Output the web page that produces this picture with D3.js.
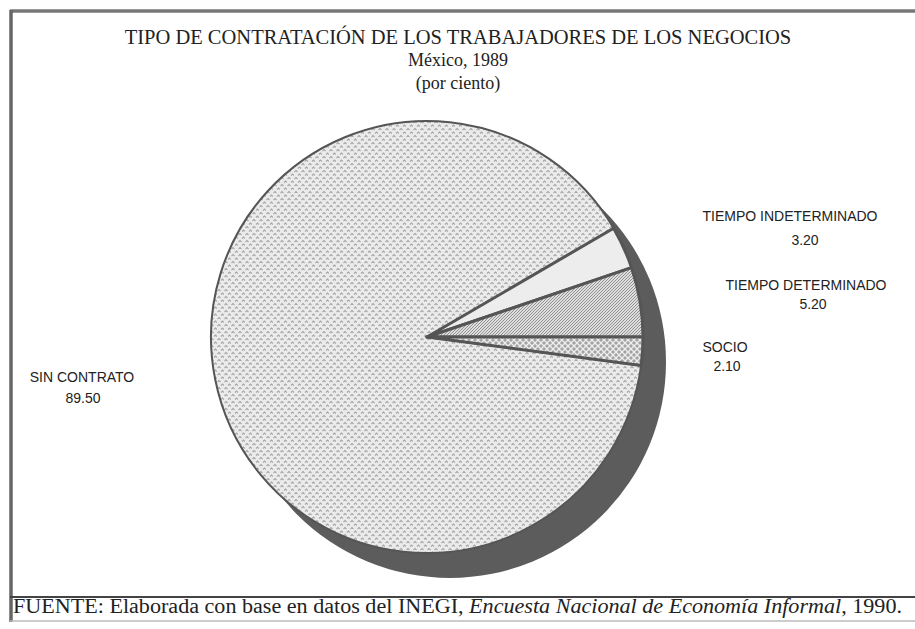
<!DOCTYPE html>
<html>
<head>
<meta charset="utf-8">
<script src="https://cdn.jsdelivr.net/npm/d3@7"></script>
<style>
body { margin: 0; background: #fff; }
svg { display: block; }
</style>
</head>
<body>
<div id="chart"></div>
<script>
// data
var categories = ["SIN CONTRATO", "TIEMPO INDETERMINADO", "TIEMPO DETERMINADO", "SOCIO"];
var values = [89.5, 3.2, 5.2, 2.1];
var valueLabels = ["89.50", "3.20", "5.20", "2.10"];
var titleLines = ["TIPO DE CONTRATACIÓN DE LOS TRABAJADORES DE LOS NEGOCIOS", "México, 1989", "(por ciento)"];

// layout
var width = 915, height = 629;
var cx = 427, cy = 337, r = 216;
var depthX = 23, depthY = 25; // shadow band offset
var fills = ["url(#dots)", "#ededed", "url(#hatch)", "url(#weave)"];
var labelPos = [[82, 382], [790, 221], [806, 290], [725, 352]]; // name line anchor
var valuePos = [[83, 403], [805, 245], [813, 309], [727, 371]];  // value line anchor

var svg = d3.select("#chart").append("svg")
	.attr("width", width)
	.attr("height", height);

svg.append("rect").attr("width", width).attr("height", height).attr("fill", "#fff");

var defs = svg.append("defs");

// chevron dots for the big slice
var dots = defs.append("pattern")
	.attr("id", "dots")
	.attr("patternUnits", "userSpaceOnUse")
	.attr("width", 7).attr("height", 7);
dots.append("rect").attr("width", 7).attr("height", 7).attr("fill", "#ebebeb");
dots.append("path").attr("d", "M0.5,3 L2,1.5 L3.5,3 M4,6.5 L5.5,5 L7,6.5")
	.attr("fill", "none").attr("stroke", "#a6a6a6").attr("stroke-width", 1.1);

// diagonal hatch
var hatch = defs.append("pattern")
	.attr("id", "hatch")
	.attr("patternUnits", "userSpaceOnUse")
	.attr("width", 3).attr("height", 3);
hatch.append("rect").attr("width", 3).attr("height", 3).attr("fill", "#dedede");
hatch.append("path").attr("d", "M-1,1 L1,-1 M0,3 L3,0 M2,4 L4,2")
	.attr("stroke", "#888").attr("stroke-width", 0.9);

// weave / cross hatch
var weave = defs.append("pattern")
	.attr("id", "weave")
	.attr("patternUnits", "userSpaceOnUse")
	.attr("width", 6).attr("height", 6);
weave.append("rect").attr("width", 6).attr("height", 6).attr("fill", "#a4a4a4");
weave.append("path").attr("d", "M0,0 L6,6 M6,0 L0,6")
	.attr("stroke", "#eee").attr("stroke-width", 1.3);

// frame lines
svg.append("line").attr("x1", 10).attr("y1", 11).attr("x2", width).attr("y2", 11)
	.attr("stroke", "#777").attr("stroke-width", 3.5);
svg.append("line").attr("x1", 11).attr("y1", 10).attr("x2", 11).attr("y2", 622)
	.attr("stroke", "#666").attr("stroke-width", 3.5);
svg.append("line").attr("x1", 10).attr("y1", 597).attr("x2", width).attr("y2", 597)
	.attr("stroke", "#444").attr("stroke-width", 1.8);
svg.append("line").attr("x1", 10).attr("y1", 621).attr("x2", width).attr("y2", 621)
	.attr("stroke", "#bbb").attr("stroke-width", 1.5);

// titles
svg.selectAll(".title")
	.data(titleLines)
	.enter().append("text")
	.attr("class", "title")
	.attr("x", 458)
	.attr("y", function(d, i) { return [44, 66, 89][i]; })
	.attr("text-anchor", "middle")
	.attr("font-family", "'Liberation Serif', 'Times New Roman', serif")
	.attr("font-size", function(d, i) { return i == 0 ? "20.5px" : "18px"; })
	.attr("fill", "#222")
	.text(function(d) { return d; });

// pie
var a0 = Math.PI / 2 + values[3] / d3.sum(values) * 2 * Math.PI;
var pie = d3.pie().sort(null).value(function(d) { return d; })
	.startAngle(a0).endAngle(a0 + 2 * Math.PI);
var arcs = pie(values);
var arc = d3.arc().innerRadius(0).outerRadius(r);

// dark side band
svg.append("circle")
	.attr("cx", cx + depthX).attr("cy", cy + depthY).attr("r", r)
	.attr("fill", "#5c5c5c");

var g = svg.append("g").attr("transform", "translate(" + cx + "," + cy + ")");
g.selectAll("path.slice")
	.data(arcs)
	.enter().append("path")
	.attr("class", "slice")
	.attr("d", arc)
	.attr("fill", function(d, i) { return fills[i]; })
	.attr("stroke", "#555")
	.attr("stroke-width", function(d, i) { return i == 0 ? 2 : 3; })
	.attr("stroke-linejoin", "round");

// labels
svg.selectAll(".lab")
	.data(categories)
	.enter().append("text")
	.attr("class", "lab")
	.attr("x", function(d, i) { return labelPos[i][0]; })
	.attr("y", function(d, i) { return labelPos[i][1]; })
	.attr("text-anchor", "middle")
	.attr("font-family", "'Liberation Sans', Arial, sans-serif")
	.attr("font-size", "14px")
	.attr("fill", "#222")
	.text(function(d) { return d; });
svg.selectAll(".val")
	.data(valueLabels)
	.enter().append("text")
	.attr("class", "val")
	.attr("x", function(d, i) { return valuePos[i][0]; })
	.attr("y", function(d, i) { return valuePos[i][1]; })
	.attr("text-anchor", "middle")
	.attr("font-family", "'Liberation Sans', Arial, sans-serif")
	.attr("font-size", "14px")
	.attr("fill", "#222")
	.text(function(d) { return d; });

// source note
var note = svg.append("text")
	.attr("x", 13).attr("y", 613)
	.attr("textLength", 889)
	.attr("lengthAdjust", "spacingAndGlyphs")
	.attr("font-family", "'Liberation Serif', 'Times New Roman', serif")
	.attr("font-size", "20px")
	.attr("fill", "#222");
note.append("tspan").text("FUENTE: Elaborada con base en datos del INEGI, ");
note.append("tspan").attr("font-style", "italic").text("Encuesta Nacional de Economía Informal");
note.append("tspan").text(", 1990.");
</script>
</body>
</html>
